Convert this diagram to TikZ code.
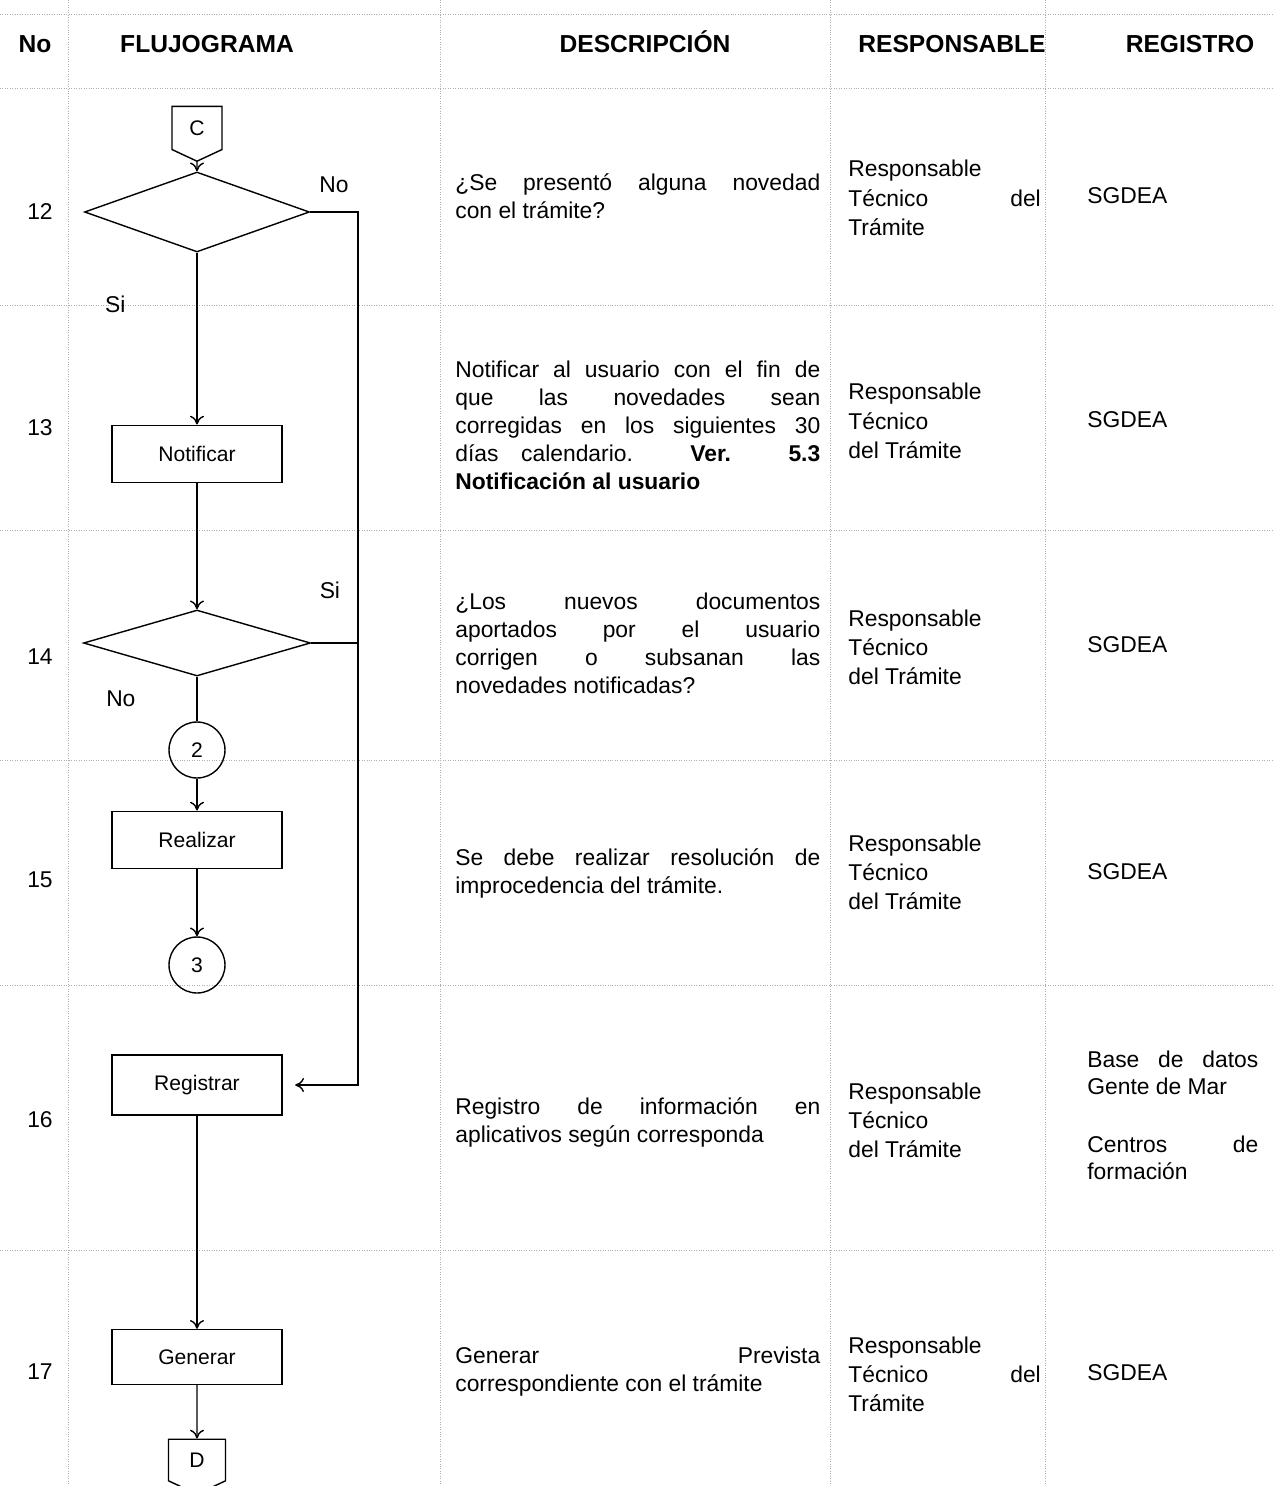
\documentclass[tikz,border=0pt]{standalone}
\usepackage{fontspec}
\setmainfont{Liberation Sans}
\usepackage{tikz}
\usetikzlibrary{shapes.geometric, shapes.symbols, arrows.meta, positioning}
\definecolor{gridgray}{RGB}{175,175,175}

\begin{document}
\begin{tikzpicture}[
    x=0.02cm, y=-0.02cm,
    >={To[length=5pt, width=8pt]},
    header/.style={anchor=base, font=\fontsize{14}{16}\selectfont\bfseries},
    rownum/.style={font=\fontsize{13}{15}\selectfont},
    branch/.style={font=\fontsize{13}{15}\selectfont},
    link/.style={thick},
    process/.style={draw, thick, rectangle, minimum width=3.4cm, minimum height=1.15cm,
                    font=\fontsize{12}{14}\selectfont},
    decision/.style={draw, thick, diamond, minimum width=4.5cm, minimum height=1.6cm,
                     inner sep=0pt},
    connector/.style={draw, thick, circle, minimum size=1.12cm, inner sep=0pt,
                      font=\fontsize{12}{14}\selectfont},
    offpage/.style={draw, thick, signal, signal to=south, signal pointer angle=130,
                    minimum width=1cm, minimum height=0.95cm, inner sep=1pt,
                    font=\fontsize{12}{14}\selectfont},
    desc/.style={anchor=west, text width=7.3cm, align=justify, inner sep=0pt,
                 font=\fontsize{13}{15.9}\selectfont},
    resp/.style={anchor=west, text width=3.85cm, align=justify, inner sep=0pt,
                 font=\fontsize{13}{16.6}\selectfont},
    reg/.style={anchor=west, text width=3.42cm, align=justify, inner sep=0pt,
                font=\fontsize{13}{15}\selectfont},
    gridline/.style={draw=gridgray, densely dotted}
]
    \useasboundingbox (0,0) rectangle (1273,1486);

    \foreach \y in {14, 88, 305, 530, 760, 985, 1250}
        \draw[gridline] (0,\y) -- (1273,\y);
    \foreach \x in {68, 440, 830, 1045}
        \draw[gridline] (\x,0) -- (\x,1486);

    \node[header] (hNo)   at (35,53)   {No};
    \node[header] (hFlow) at (207,53)  {FLUJOGRAMA};
    \node[header] (hDesc) at (645,53)  {DESCRIPCIÓN};
    \node[header] (hResp) at (952,53)  {RESPONSABLE};
    \node[header] (hReg)  at (1190,53) {REGISTRO};

    \node[rownum] (n12) at (40,212)  {12};
    \node[rownum] (n13) at (40,428)  {13};
    \node[rownum] (n14) at (40,657)  {14};
    \node[rownum] (n15) at (40,880)  {15};
    \node[rownum] (n16) at (40,1120) {16};
    \node[rownum] (n17) at (40,1372) {17};

    \node[offpage]   (conC)     at (197,128)  {C};
    \node[decision]  (quest12)  at (197,212)  {};
    \node[process]   (notif)    at (197,454)  {Notificar};
    \node[decision, minimum width=4.54cm, minimum height=1.32cm]
                     (quest14)  at (197,643)  {};
    \node[connector] (con2)     at (197,750)  {2};
    \node[process]   (realizar) at (197,840)  {Realizar};
    \node[connector] (con3)     at (197,965)  {3};
    \node[process, minimum height=1.2cm]
                     (registrar) at (197,1085) {Registrar};
    \node[process, minimum height=1.1cm]
                     (generar)  at (197,1357) {Generar};
    \node[offpage, minimum width=1.14cm, minimum height=0.92cm]
                     (conD)     at (197,1460) {D};
    \coordinate (join14) at (358,643);

    \draw[link, ->] (conC) -- (quest12);
    \draw[link, ->] (quest12) -- node[branch, pos=0.3, left=1.3cm] {Si} (notif);
    \draw[link, ->] (notif) -- (quest14);
    \draw[link] (quest14) -- node[branch, pos=0.5, left=1.1cm] {No} (con2);
    \draw[link, ->] (con2) -- (realizar);
    \draw[link, ->] (realizar) -- (con3);
    \draw[link, ->] (quest12.east) -- node[branch, above=0.25cm] {No} (358,212)
        |- ([xshift=0.25cm]registrar.east);
    \draw[link] (quest14.east) -- node[branch, above=0.75cm, pos=0.4] {Si} (join14);
    \draw[link, ->] (registrar) -- (generar);
    \draw[link, ->] (generar) -- (conD);

    \node[desc] (d12) at (455,196)
        {¿Se presentó alguna novedad\linebreak con el trámite?};
    \node[desc] (d13) at (455,425)
        {Notificar al usuario con el fin de\linebreak que las novedades sean\linebreak
         corregidas en los siguientes 30\linebreak días calendario.
         \textbf{Ver. 5.3\linebreak Notificación al usuario}};
    \node[desc] (d14) at (455,643)
        {¿Los nuevos documentos\linebreak aportados por el usuario\linebreak
         corrigen o subsanan las\linebreak novedades notificadas?};
    \node[desc] (d15) at (455,873)
        {Se debe realizar resolución de\linebreak improcedencia del trámite.};
    \node[desc] (d16) at (455,1122)
        {Registro de información en\linebreak aplicativos según corresponda};
    \node[desc] (d17) at (455,1372)
        {Generar Prevista\linebreak correspondiente con el trámite};

    \node[resp] (r12) at (848,198)  {Responsable\\Técnico del\linebreak Trámite};
    \node[resp] (r13) at (848,421)  {Responsable\\Técnico\\del Trámite};
    \node[resp] (r14) at (848,647)  {Responsable\\Técnico\\del Trámite};
    \node[resp] (r15) at (848,872)  {Responsable\\Técnico\\del Trámite};
    \node[resp] (r16) at (848,1120) {Responsable\\Técnico\\\ del Trámite};
    \node[resp] (r17) at (848,1374) {Responsable\\Técnico del\linebreak Trámite};

    \node[reg] (g12) at (1087,196)  {SGDEA};
    \node[reg] (g13) at (1087,420)  {SGDEA};
    \node[reg] (g14) at (1087,645)  {SGDEA};
    \node[reg] (g15) at (1087,872)  {SGDEA};
    \node[reg] (g16a) at (1087,1073) {Base de datos\linebreak Gente de Mar};
    \node[reg] (g16b) at (1087,1158) {Centros de\linebreak formación};
    \node[reg] (g17) at (1087,1373) {SGDEA};
\end{tikzpicture}
\end{document}
